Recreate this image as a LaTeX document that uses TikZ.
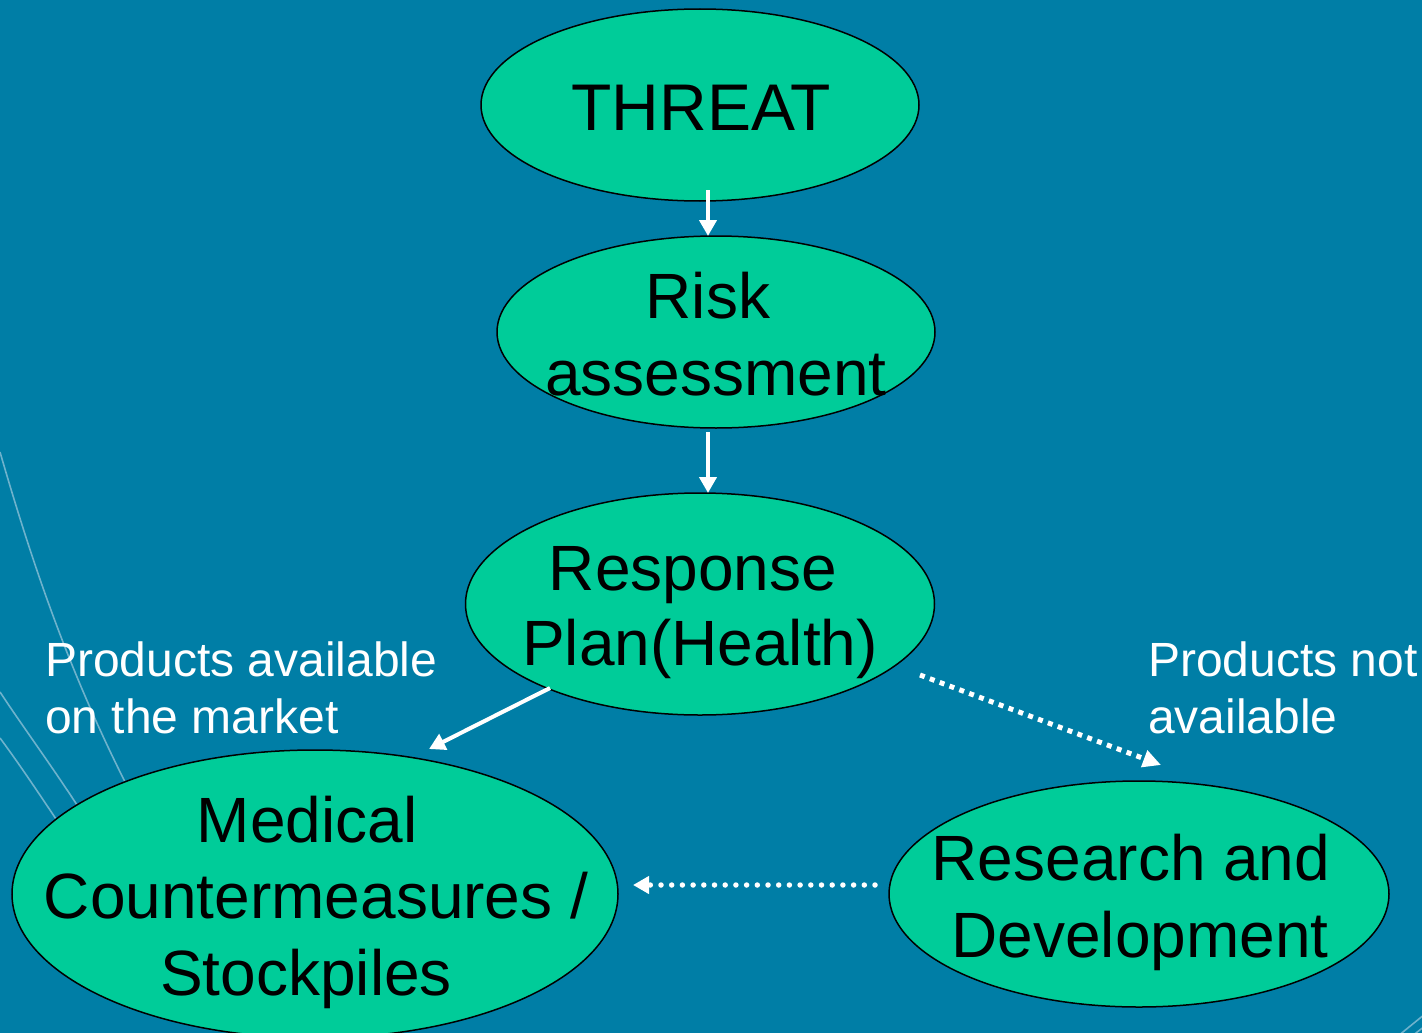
\documentclass[tikz,border=0pt]{standalone}
\usepackage{fontspec}
\setmainfont{Liberation Sans}
\usetikzlibrary{shapes.geometric,arrows.meta}
\definecolor{bgblue}{RGB}{0,126,166}
\definecolor{eggreen}{RGB}{0,204,153}
\definecolor{faint}{RGB}{110,178,204}
\tikzset{
  blob/.style={ellipse, draw=black, line width=1.5pt, fill=eggreen, inner sep=0pt},
  big/.style={font=\fontsize{64}{77}\selectfont, text=black, inner sep=0pt, anchor=base},
  note/.style={font=\fontsize{48}{57.6}\selectfont, text=white, inner sep=0pt, anchor=base west},
  solidarrow/.style={draw=white, line width=4pt, -{Triangle[length=16pt,width=17pt]}},
  squaredots/.style={draw=white, line width=5pt, dash pattern=on 5pt off 5.5pt, -{Triangle[length=18pt,width=17pt]}},
  rounddots/.style={draw=white, line width=5.5pt, line cap=round, dash pattern=on 0pt off 10.7pt, -{Triangle[length=16pt,width=17pt]}},
  bgline/.style={draw=faint, line width=1.6pt}
}
\begin{document}
\begin{tikzpicture}[x=1pt,y=-1pt]
\useasboundingbox (0,0) rectangle (1422,1033);
\clip (0,0) rectangle (1422,1033);
\fill[bgblue] (0,0) rectangle (1422,1033);
% background curves
\draw[bgline] (0,452) .. controls (40,590) and (80,700) .. (150,830);
\draw[bgline] (0,692) .. controls (25,730) and (55,770) .. (90,825);
\draw[bgline] (0,738) .. controls (20,765) and (40,795) .. (70,840);
\draw[bgline] (1398,1036) -- (1425,1014);
\draw[bgline] (1412,1036) -- (1425,1026);
% ellipses
\node[blob, minimum width=438pt, minimum height=192pt] (threat) at (700,105) {};
\node[blob, minimum width=438pt, minimum height=192pt] (risk) at (716,332) {};
\node[blob, minimum width=469pt, minimum height=222pt] (resp) at (700,604) {};
\node[blob, minimum width=606pt, minimum height=288pt] (med) at (315,894) {};
\node[blob, minimum width=500pt, minimum height=226pt] (rd) at (1139,894) {};
% texts
\node[big, font=\fontsize{66}{79}\selectfont] (t1) at (701,130) {THREAT};
\node[big] (t2a) at (708,318) {Risk};
\node[big] (t2b) at (716,395) {assessment};
\node[big] (t3a) at (693,590) {Response};
\node[big] (t3b) at (700,665) {Plan(Health)};
\node[big] (t4a) at (307,842) {Medical};
\node[big] (t4b) at (316,918) {Countermeasures /};
\node[big] (t4c) at (306,995) {Stockpiles};
\node[big] (t5a) at (1131,880) {Research and};
\node[big] (t5b) at (1140,957) {Development};
\node[note] (n1) at (45,676) {Products available};
\node[note] (n2) at (45,733) {on the market};
\node[note] (n3) at (1148,676) {Products not};
\node[note] (n4) at (1148,733) {available};
% connector anchors
\coordinate (a1s) at (708,190);
\coordinate (a1e) at (708,236);
\coordinate (a2s) at (708,432);
\coordinate (a2e) at (708,493);
\coordinate (a3s) at (550,688);
\coordinate (a3e) at (429,749);
\coordinate (a4s) at (920,675);
\coordinate (a4e) at (1161,765);
\coordinate (a5s) at (875,885);
\coordinate (a5e) at (633,885);
\draw[solidarrow] (a1s) -- (a1e);
\draw[solidarrow] (a2s) -- (a2e);
\draw[solidarrow] (a3s) -- (a3e);
\draw[squaredots] (a4s) -- (a4e);
\draw[rounddots] (a5s) -- (a5e);
\end{tikzpicture}
\end{document}
